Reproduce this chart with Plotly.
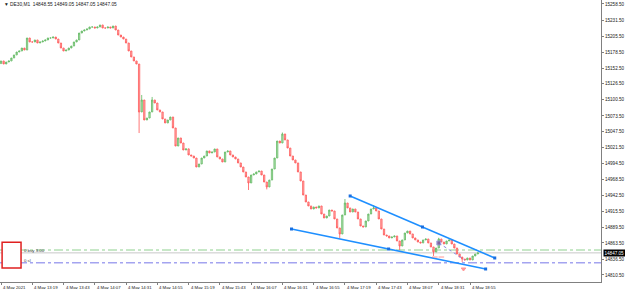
import plotly.graph_objects as go

# ---------------- data (DE30, M1, 4 May 2021) ----------------
SYMBOL_HEADER = "\u25bc DE30,M1  14848.55 14849.05 14847.05 14847.05"
SESSION_START = "12:55"
BAR_MINUTES = 2
first_open = 15160.0
closes = [
    15164.3, 15159.3, 15162.6, 15164.3, 15169.2, 15174.2, 15179.1, 15180.8, 15185.7, 15182.4,
    15202.3, 15195.7, 15195.7, 15199.0, 15194.0, 15195.7, 15197.3, 15199.0, 15202.3, 15202.3,
    15203.9, 15200.6, 15194.0, 15185.7, 15180.8, 15182.4, 15185.7, 15189.0, 15195.7, 15199.0,
    15210.5, 15213.8, 15215.5, 15217.2, 15220.5, 15220.5, 15218.8, 15220.5, 15223.8, 15218.8,
    15218.8, 15220.5, 15218.8, 15222.1, 15215.5, 15207.2, 15203.9, 15200.6, 15194.0, 15180.8,
    15170.9, 15164.3, 15159.3, 15080.0, 15099.8, 15066.7, 15070.0, 15080.0, 15099.8, 15094.8,
    15083.3, 15080.0, 15068.4, 15061.8, 15066.7, 15071.7, 15053.5, 15023.7, 15037.0, 15028.7,
    15017.1, 15019.0, 15008.9, 15007.2, 15003.9, 14989.0, 14994.0, 15003.9, 15007.2, 15015.5,
    15012.2, 15013.8, 15018.8, 15005.6, 15002.3, 14997.3, 15013.8, 15015.5, 15008.9, 15005.6,
    15002.3, 14995.7, 14989.0, 14980.8, 14972.5, 14962.6, 14975.8, 14977.5, 14980.8, 14982.4,
    14975.8, 14964.2, 14956.0, 14967.5, 14985.7, 15003.9, 15032.0, 15028.7, 15043.6, 15033.7,
    15020.4, 15007.2, 15000.6, 14995.7, 14980.8, 14965.9, 14942.7, 14931.2, 14924.6, 14919.6,
    14922.9, 14921.3, 14924.6, 14911.3, 14904.7, 14908.0, 14917.9, 14916.3, 14903.1, 14888.2,
    14878.3, 14909.7, 14929.5, 14921.3, 14914.6, 14919.6, 14914.6, 14903.1, 14891.5, 14889.9,
    14899.8, 14911.3, 14919.6, 14921.3, 14916.3, 14903.1, 14886.5, 14876.6, 14875.0, 14871.7,
    14873.3, 14875.0, 14866.7, 14858.4, 14868.4, 14879.9, 14883.2, 14878.3, 14871.7, 14868.4,
    14865.0, 14863.4, 14868.4, 14870.0, 14863.4, 14856.8, 14848.5, 14855.1, 14870.0, 14865.0,
    14861.7, 14866.7, 14868.4, 14861.7, 14855.1, 14845.2, 14840.2, 14836.9, 14835.3, 14838.6,
    14835.3, 14841.9, 14845.2, 14847.05,
]
wick_high = {54: 15108.1, 58: 15104.8, 108: 15046.0, 132: 14936.1, 143: 14926.2, 168: 14872.0}
wick_low = {53: 15045.2, 95: 14951.0, 102: 14952.0, 130: 14871.7, 153: 14851.8, 166: 14841.9, 177: 14832.0}

price_ticks = [15258.5, 15231.5, 15205.5, 15178.5, 15152.5, 15126.5, 15100.5, 15073.5, 15047.5,
               15021.5, 14994.5, 14968.5, 14942.5, 14915.5, 14889.5, 14863.5, 14836.5, 14810.5]
time_ticks = ["12:55", "13:19", "13:43", "14:07", "14:31", "14:55", "15:19", "15:43", "16:07",
              "16:31", "16:55", "17:19", "17:43", "18:07", "18:31", "18:55"]
time_labels = ["4 May 2021"] + ["4 May " + t for t in time_ticks[1:]]

bid_price = 14847.05
buy_level = 14851.8
sl_level = 14830.8

upper_trend_t = ["17:23", "19:14"]
upper_trend_p = [14941.1, 14838.6]
lower_trend_t = ["16:38", "19:07"]
lower_trend_p = [14886.5, 14820.4]

trade_t = ["18:31", "18:51"]
trade_p = [14863.4, 14835.3]
marker_t = ["18:28", "18:33", "18:50"]
marker_p = [14840.2, 14840.2, 14820.4]

# y range / x range of the visible window
y_top, y_bottom = 15265.1, 14798.9
x_left, x_right = -0.77, 460.55


def tmin(s):
    h, m = map(int, s.split(":"))
    h0, m0 = map(int, SESSION_START.split(":"))
    return (h * 60 + m) - (h0 * 60 + m0)


x = [i * BAR_MINUTES for i in range(len(closes))]
opens = [first_open] + closes[:-1]
highs = [wick_high.get(i, max(o, c)) for i, (o, c) in enumerate(zip(opens, closes))]
lows = [wick_low.get(i, min(o, c)) for i, (o, c) in enumerate(zip(opens, closes))]

FONT = "Liberation Sans, Arial, sans-serif"
TRENDBLUE = "#1e8fff"

fig = go.Figure()
fig.add_trace(go.Candlestick(
    x=x, open=opens, high=highs, low=lows, close=closes,
    increasing=dict(line=dict(color="#5fb85f", width=0.8), fillcolor="#c4e8c4"),
    decreasing=dict(line=dict(color="#ff5656", width=0.8), fillcolor="#ffc0c0"),
    whiskerwidth=0, showlegend=False, hoverinfo="skip",
))

for tt, pp in ((upper_trend_t, upper_trend_p), (lower_trend_t, lower_trend_p)):
    tx = [tmin(t) for t in tt]
    fig.add_trace(go.Scatter(x=tx, y=pp, mode="lines",
                             line=dict(color=TRENDBLUE, width=1.6),
                             showlegend=False, hoverinfo="skip"))
    fig.add_trace(go.Scatter(x=[tx[0], (tx[0] + tx[1]) / 2, tx[1]],
                             y=[pp[0], (pp[0] + pp[1]) / 2, pp[1]], mode="markers",
                             marker=dict(symbol="square", size=3, color="#1a6fe0"),
                             showlegend=False, hoverinfo="skip"))

# trade line
fig.add_trace(go.Scatter(x=[tmin(t) for t in trade_t], y=trade_p, mode="lines+markers",
                         line=dict(color="#8a8ae0", width=1, dash="dot"),
                         marker=dict(symbol="square", size=[4, 0], color="#7a3fa0"),
                         showlegend=False, hoverinfo="skip"))
fig.add_trace(go.Scatter(x=[tmin(t) for t in marker_t], y=marker_p, mode="markers",
                         marker=dict(symbol=["line-ew", "line-ew", "triangle-down"], size=[4, 4, 4],
                                     color="#ff6a6a", line=dict(color="#ff6a6a", width=1)),
                         showlegend=False, hoverinfo="skip"))

shapes = [
    dict(type="line", xref="paper", x0=0, x1=1, yref="y", y0=buy_level, y1=buy_level,
         line=dict(color="#8fd08f", width=1, dash="dashdot"), layer="below"),
    dict(type="line", xref="paper", x0=0, x1=1, yref="y", y0=bid_price, y1=bid_price,
         line=dict(color="#c8c8c8", width=1), layer="below"),
    dict(type="line", xref="paper", x0=0, x1=1, yref="y", y0=sl_level, y1=sl_level,
         line=dict(color="#a4a4f0", width=1.6, dash="dashdot"), layer="below"),
    dict(type="rect", xref="paper", yref="paper", x0=0.0035, x1=0.035, y0=0.050, y1=0.141,
         line=dict(color="#e02020", width=1.5), fillcolor="white", layer="above"),
]

annotations = [
    dict(text=SYMBOL_HEADER, xref="paper", yref="paper", x=0.003, y=1.0, xanchor="left",
         yanchor="top", showarrow=False, font=dict(family=FONT, size=4.8, color="#202020")),
    dict(text="0 buy 3.00", xref="paper", yref="y", x=0.036, y=buy_level, xanchor="left",
         yanchor="middle", showarrow=False, font=dict(family=FONT, size=4.3, color="#404040")),
    dict(text="0 sl", xref="paper", yref="y", x=0.036, y=sl_level + 3, xanchor="left",
         yanchor="middle", showarrow=False, font=dict(family=FONT, size=4.3, color="#404040")),
    dict(text=f"{bid_price:.2f}", xref="paper", yref="y", x=1, y=bid_price, xanchor="left",
         yanchor="middle", xshift=2, showarrow=False, bgcolor="#000000", borderpad=0.5,
         font=dict(family=FONT, size=4.6, color="#ffffff")),
]
for t, lab in zip(time_ticks, time_labels):
    annotations.append(dict(text=lab, xref="x", yref="paper", x=tmin(t), y=0, yshift=-1,
                            xanchor="left", yanchor="top", showarrow=False,
                            font=dict(family=FONT, size=4.3, color="#202020")))

fig.update_layout(
    width=625, height=289,
    margin=dict(l=0, r=24, t=0, b=7),
    paper_bgcolor="white", plot_bgcolor="white",
    shapes=shapes, annotations=annotations,
    showlegend=False,
    xaxis=dict(range=[x_left, x_right], rangeslider=dict(visible=False), showgrid=False,
               zeroline=False, showline=True, linecolor="#808080", linewidth=1, mirror=True,
               tickvals=[tmin(t) for t in time_ticks], ticks="outside", ticklen=2,
               tickcolor="#808080", showticklabels=False),
    yaxis=dict(range=[y_bottom, y_top], side="right", showgrid=False, zeroline=False,
               showline=True, linecolor="#808080", linewidth=1, mirror=True,
               tickvals=price_ticks, ticktext=[f"{p:.2f}" for p in price_ticks],
               ticks="outside", ticklen=2, tickcolor="#808080",
               tickfont=dict(family=FONT, size=4.6, color="#202020")),
)

fig.write_html("out.html")
